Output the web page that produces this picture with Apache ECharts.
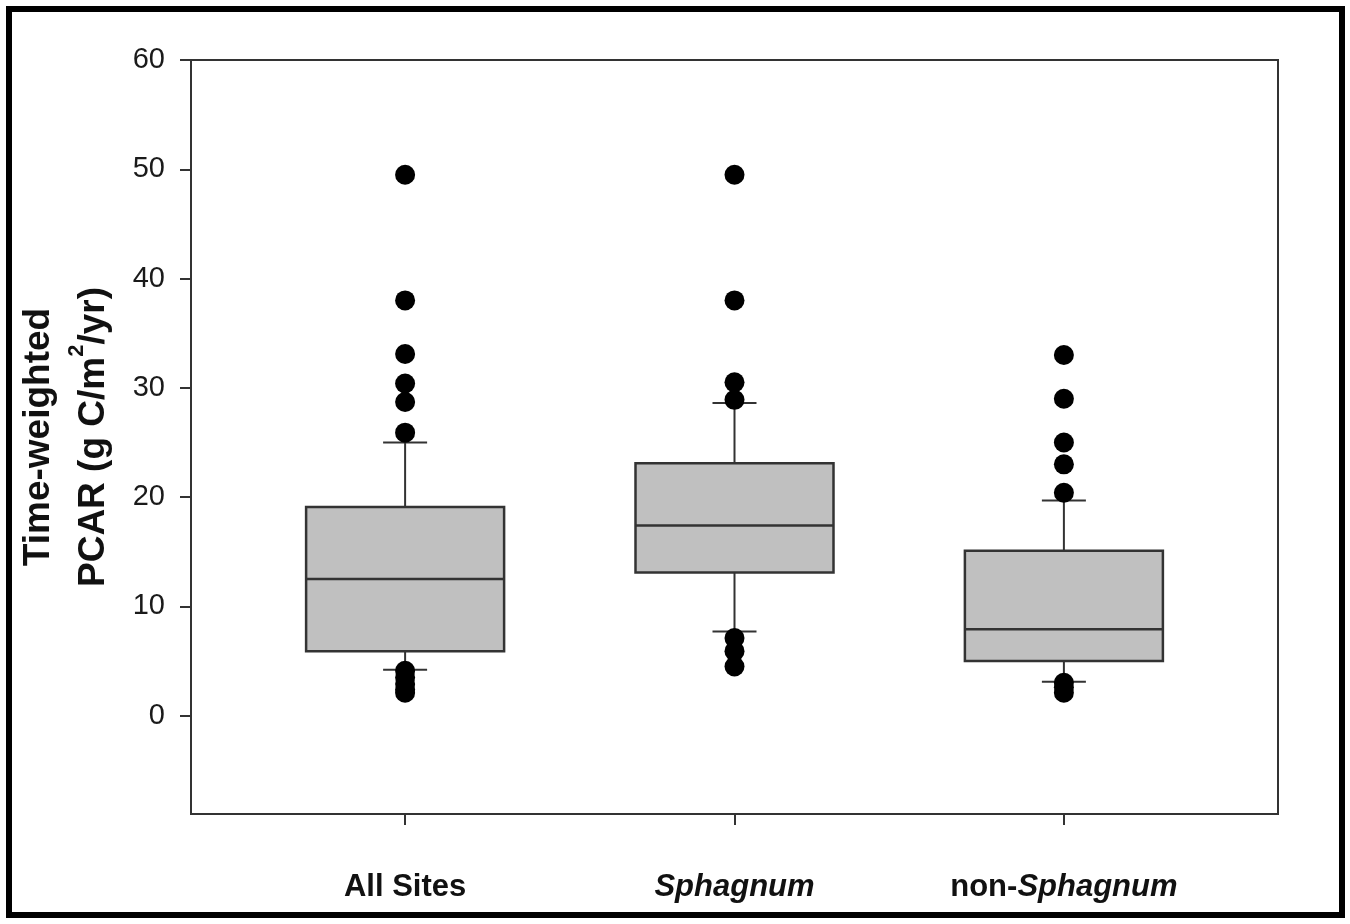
<!DOCTYPE html>
<html>
<head>
<meta charset="utf-8">
<script src="https://cdn.jsdelivr.net/npm/echarts@6/dist/echarts.min.js"></script>
<style>
html,body{margin:0;padding:0;background:#fff;}
#chart{width:1350px;height:924px;}
</style>
</head>
<body>
<div id="chart"></div>
<script>
// ---- Data ----
const categories = ['All Sites', 'Sphagnum', 'non-Sphagnum'];
const categoryPositions = [1, 2, 3];
const whiskerLow = [4.2, 7.7, 3.1];
const q1 = [5.9, 13.1, 5.0];
const median = [12.5, 17.4, 7.9];
const q3 = [19.1, 23.1, 15.1];
const whiskerHigh = [25.0, 28.6, 19.7];
const outliersAllSites = [49.5, 38.0, 33.1, 30.4, 28.7, 25.9, 4.1, 3.5, 2.9, 2.4, 2.1];
const outliersSphagnum = [49.5, 38.0, 30.5, 28.9, 7.1, 5.9, 4.5];
const outliersNonSphagnum = [33.0, 29.0, 25.0, 23.0, 20.4, 3.0, 2.6, 2.1];
const yTickValues = [0, 10, 20, 30, 40, 50, 60];

// ---- Build series data from the arrays ----
const boxData = categories.map((c, i) => [categoryPositions[i], whiskerLow[i], q1[i], median[i], q3[i], whiskerHigh[i]]);
const outlierLists = [outliersAllSites, outliersSphagnum, outliersNonSphagnum];
const outlierData = [];
outlierLists.forEach((list, i) => list.forEach(v => outlierData.push([categoryPositions[i], v])));

function toRich(name) {
  // genus name in italics, the rest in bold upright
  const parts = name.split(/(Sphagnum)/).filter(p => p.length);
  return parts.map(p => p === 'Sphagnum' ? '{i|' + p + '}' : '{b|' + p + '}').join('');
}

const FONT = '"Liberation Sans", Arial, Helvetica, sans-serif';
const LINE = '#333333';

function renderBox(params, api) {
  const x = api.value(0);
  const lowP = api.coord([x, api.value(1)]);
  const q1P = api.coord([x, api.value(2)]);
  const medP = api.coord([x, api.value(3)]);
  const q3P = api.coord([x, api.value(4)]);
  const highP = api.coord([x, api.value(5)]);
  const cx = lowP[0];
  const hw = 99, cap = 22;
  const ls = { stroke: LINE, lineWidth: 2 };
  return {
    type: 'group',
    children: [
      { type: 'line', shape: { x1: cx, y1: q3P[1], x2: cx, y2: highP[1] }, style: ls },
      { type: 'line', shape: { x1: cx, y1: q1P[1], x2: cx, y2: lowP[1] }, style: ls },
      { type: 'line', shape: { x1: cx - cap, y1: highP[1], x2: cx + cap, y2: highP[1] }, style: ls },
      { type: 'line', shape: { x1: cx - cap, y1: lowP[1], x2: cx + cap, y2: lowP[1] }, style: ls },
      { type: 'rect', shape: { x: cx - hw, y: q3P[1], width: 2 * hw, height: q1P[1] - q3P[1] },
        style: { fill: '#c0c0c0', stroke: LINE, lineWidth: 2.5 } },
      { type: 'line', shape: { x1: cx - hw, y1: medP[1], x2: cx + hw, y2: medP[1] }, style: { stroke: LINE, lineWidth: 2.5 } }
    ]
  };
}

const chart = echarts.init(document.getElementById('chart'), null, { renderer: 'canvas' });
chart.setOption({
  animation: false,
  backgroundColor: '#ffffff',
  textStyle: { fontFamily: FONT },
  graphic: [{
    type: 'rect',
    shape: { x: 9, y: 9, width: 1333, height: 906 },
    style: { fill: 'none', stroke: '#000', lineWidth: 6 },
    z: 100
  }],
  grid: {
    left: 191, top: 60, right: 72, bottom: 110,
    show: true, borderColor: LINE, borderWidth: 2, backgroundColor: 'transparent',
    outerBoundsMode: 'none'
  },
  xAxis: {
    type: 'value', min: 0.35, max: 3.65,
    position: 'bottom',
    splitLine: { show: false },
    axisLine: { show: false, onZero: false },
    axisTick: { show: true, inside: false, length: 11, customValues: categoryPositions,
      lineStyle: { color: LINE, width: 2 } },
    axisLabel: {
      show: true, customValues: categoryPositions, margin: 57,
      formatter: function (v) {
        const i = categoryPositions.indexOf(Math.round(v));
        return i >= 0 ? toRich(categories[i]) : '';
      },
      rich: {
        b: { fontFamily: FONT, fontSize: 31, fontWeight: 'bold', color: '#111', lineHeight: 32 },
        i: { fontFamily: FONT, fontSize: 31, fontWeight: 'bold', fontStyle: 'italic', color: '#111', lineHeight: 32 }
      }
    }
  },
  yAxis: {
    type: 'value', min: -9, max: 60,
    splitLine: { show: false },
    axisLine: { show: false },
    axisTick: { show: true, inside: false, length: 11, customValues: yTickValues,
      lineStyle: { color: LINE, width: 2 } },
    axisLabel: { show: true, customValues: yTickValues, margin: 26,
      fontFamily: FONT, fontSize: 29, color: '#1a1a1a' },
    name: '{t|Time-weighted}\n{t|PCAR (g C/m}{s|2}{t|/yr)}',
    nameLocation: 'middle',
    nameRotate: 90,
    nameGap: 70,
    nameTextStyle: {
      rich: {
        t: { fontFamily: FONT, fontSize: 37, fontWeight: 'bold', color: '#111', lineHeight: 55 },
        s: { fontFamily: FONT, fontSize: 22, fontWeight: 'bold', color: '#111', lineHeight: 22, verticalAlign: 'top' }
      }
    }
  },
  series: [
    {
      type: 'custom',
      renderItem: renderBox,
      data: boxData,
      encode: { x: 0, y: [1, 2, 3, 4, 5] },
      z: 2
    },
    {
      type: 'scatter',
      data: outlierData,
      symbol: 'circle',
      symbolSize: 20,
      itemStyle: { color: '#000', opacity: 1 },
      z: 5
    }
  ]
});
</script>
</body>
</html>
